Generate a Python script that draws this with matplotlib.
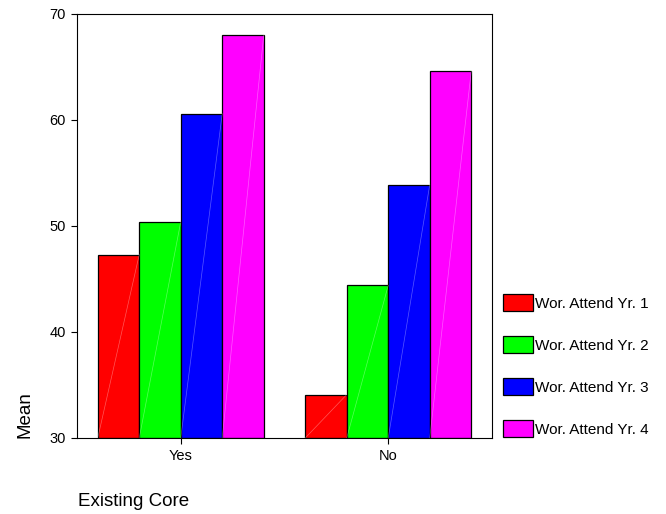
import numpy as np
import matplotlib
matplotlib.use('Agg')
from matplotlib import pyplot as plt

# data
groups = ['Yes', 'No']
series = ['Wor. Attend Yr. 1', 'Wor. Attend Yr. 2', 'Wor. Attend Yr. 3', 'Wor. Attend Yr. 4']
yr1 = [47.3, 34.1]
yr2 = [50.4, 44.4]
yr3 = [60.6, 53.9]
yr4 = [68.0, 64.6]
colors = ['#ff0000', '#00ff00', '#0000ff', '#ff00ff']

plt.rcParams['font.family'] = ['Liberation Sans', 'DejaVu Sans']

fig = plt.figure(figsize=(6.66, 5.14), dpi=100)
ax = fig.add_axes([77/666, 1-438/514, 415/666, 424/514])

x = np.arange(len(groups))
w = 0.2
base = 30
for i, vals in enumerate([yr1, yr2, yr3, yr4]):
    pos = x + (i - 1.5) * w
    ax.bar(pos, np.array(vals) - base, bottom=base, width=w, color=colors[i],
           edgecolor='black', linewidth=0.9, label=series[i], zorder=2)
    # faint diagonal inside each bar (like the original render)
    for p, v in zip(pos, vals):
        ax.plot([p - w/2, p + w/2], [base, v], color='white', lw=0.5, alpha=0.35, zorder=3)

ax.set_xlim(-0.5, 1.5)
ax.set_ylim(30, 70)
ax.set_yticks([30, 40, 50, 60, 70])
ax.set_xticks(x)
ax.set_xticklabels(groups)
ax.tick_params(direction='out', length=4, width=0.8, labelsize=10.5, pad=4)
for s in ax.spines.values():
    s.set_linewidth(0.8)

fig.text(25/666, 1-438/514, 'Mean', rotation=90, ha='center', va='bottom', fontsize=13.5)
fig.text(78/666, 1-502/514, 'Existing Core', ha='left', va='center', fontsize=13.5)

leg = ax.legend(loc='upper left', bbox_to_anchor=(503/666, 1-294/514),
                bbox_transform=fig.transFigure, frameon=False, fontsize=11,
                handlelength=1.96, handleheight=1.35, labelspacing=1.63,
                handletextpad=0.13, borderpad=0, borderaxespad=0)

fig.savefig('out.png', dpi=100)
